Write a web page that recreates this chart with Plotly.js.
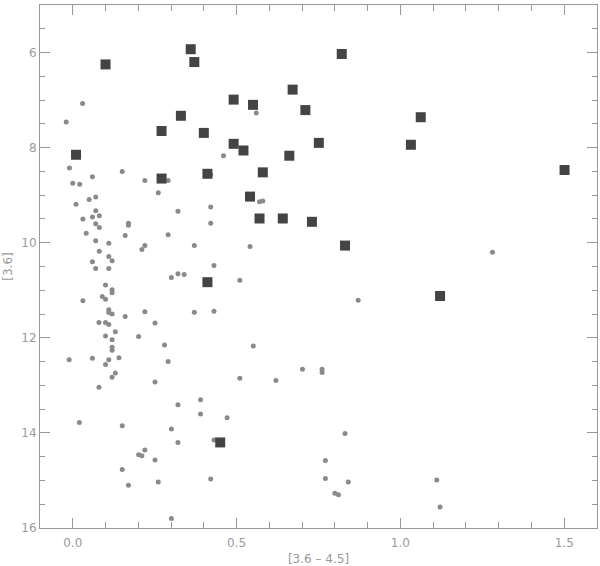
<!DOCTYPE html>
<html>
<head>
<meta charset="utf-8">
<script src="https://cdn.plot.ly/plotly-3.0.1.min.js"></script>
<style>html,body{margin:0;padding:0;background:#fff;}#chart{width:600px;height:566px;}</style>
</head>
<body>
<div id="chart"></div>
<script>
// Large square markers: colour [3.6-4.5] and magnitude [3.6]
var squareColor = [0.360,0.371,0.100,0.671,0.491,0.550,0.330,0.271,0.400,0.491,0.521,0.010,0.661,0.411,0.580,0.271,0.541,0.570,0.641,0.411,
                   0.821,0.710,1.062,0.751,1.032,1.501,0.730,0.831,1.121,0.450];
var squareMag   = [5.93,6.20,6.25,6.78,6.99,7.10,7.33,7.65,7.69,7.92,8.06,8.15,8.17,8.55,8.52,8.65,9.03,9.49,9.49,10.83,
                   6.03,7.21,7.36,7.90,7.94,8.47,9.56,10.06,11.12,14.20];

// Small dot markers
var dotColor = [0.030,-0.020,0.560,0.460,-0.010,0.060,0.151,0.421,0.220,0.291,0.000,0.021,0.261,0.070,0.050,0.570,0.580,0.010,0.070,0.321,
                0.421,0.081,0.031,0.060,0.070,0.081,0.170,0.170,0.421,0.041,0.160,0.291,0.070,0.110,0.220,0.211,0.371,0.541,0.081,0.110,
                0.120,0.060,0.070,0.110,0.431,0.301,0.321,0.340,0.510,
                0.100,0.120,0.120,0.031,0.090,0.100,0.110,0.120,0.110,0.160,0.220,0.251,0.371,0.431,0.080,0.100,0.110,0.130,0.100,0.201,
                0.120,0.280,0.551,0.120,0.120,-0.011,0.060,0.110,0.141,0.291,0.100,0.130,0.120,0.251,0.510,0.620,0.080,0.390,0.321,0.390,
                0.471,0.020,0.151,0.301,0.431,0.321,0.220,0.201,0.211,0.251,0.151,0.421,0.170,0.261,0.301,
                1.281,0.871,0.701,0.761,0.761,0.831,0.771,0.771,0.841,0.800,0.811,1.111,1.121];
var dotMag = [7.07,7.46,7.27,8.17,8.43,8.61,8.50,8.57,8.69,8.69,8.75,8.77,8.95,9.04,9.09,9.14,9.12,9.19,9.33,9.34,
              9.25,9.43,9.50,9.46,9.60,9.68,9.59,9.63,9.59,9.80,9.85,9.83,9.96,10.01,10.06,10.14,10.06,10.08,10.18,10.29,
              10.38,10.40,10.54,10.54,10.48,10.73,10.65,10.67,10.79,
              10.89,10.99,11.05,11.22,11.13,11.19,11.41,11.50,11.47,11.55,11.45,11.69,11.46,11.44,11.68,11.68,11.72,11.87,11.96,11.97,
              12.04,12.15,12.17,12.20,12.26,12.46,12.43,12.46,12.42,12.50,12.56,12.74,12.83,12.93,12.85,12.90,13.04,13.30,13.41,13.60,
              13.68,13.78,13.85,13.92,14.15,14.20,14.36,14.46,14.48,14.57,14.77,14.97,15.10,15.03,15.80,
              10.20,11.21,12.66,12.66,12.73,14.01,14.58,14.96,15.03,15.27,15.30,14.99,15.56];

var xTickVals = [0.0, 0.5, 1.0, 1.5];
var xTickText = ['0.0', '0.5', '1.0', '1.5'];
var yTickVals = [6, 8, 10, 12, 14, 16];
var yTickText = ['6', '8', '10', '12', '14', '16'];

var traces = [
  {x: dotColor, y: dotMag, type: 'scatter', mode: 'markers',
   marker: {symbol: 'circle', size: 5, color: '#8a8a8a', line: {width: 0}}, hoverinfo: 'x+y'},
  {x: squareColor, y: squareMag, type: 'scatter', mode: 'markers',
   marker: {symbol: 'square', size: 10, color: '#444444', line: {width: 0}}, hoverinfo: 'x+y'}
];

var axisFont = {family: 'DejaVu Sans, sans-serif', size: 12, color: '#9a9a9a'};

var layout = {
  width: 600, height: 566,
  margin: {l: 40, r: 3, t: 5, b: 38},
  paper_bgcolor: '#ffffff', plot_bgcolor: '#ffffff',
  showlegend: false,
  xaxis: {
    range: [-0.1, 1.6], tickmode: 'array', tickvals: xTickVals, ticktext: xTickText,
    ticks: 'inside', ticklen: 10, tickwidth: 1, tickcolor: '#999',
    minor: {dtick: 0.1, tick0: 0, ticks: 'inside', ticklen: 6, tickcolor: '#999', showgrid: false},
    showline: true, linecolor: '#999', linewidth: 1, mirror: 'ticks',
    showgrid: false, zeroline: false, tickfont: axisFont, ticklabelstandoff: 4,
    title: {text: '[3.6 \u2013 4.5]', font: axisFont, standoff: 8}
  },
  yaxis: {
    range: [16, 5], tickmode: 'array', tickvals: yTickVals, ticktext: yTickText,
    ticks: 'inside', ticklen: 10, tickwidth: 1, tickcolor: '#999',
    minor: {dtick: 0.5, tick0: 0, ticks: 'inside', ticklen: 5, tickcolor: '#999', showgrid: false},
    showline: true, linecolor: '#999', linewidth: 1, mirror: 'ticks',
    showgrid: false, zeroline: false, tickfont: axisFont,
    title: {text: '[3.6]', font: axisFont, standoff: 6}
  }
};

Plotly.newPlot('chart', traces, layout, {displayModeBar: false, staticPlot: true});
</script>
</body>
</html>
